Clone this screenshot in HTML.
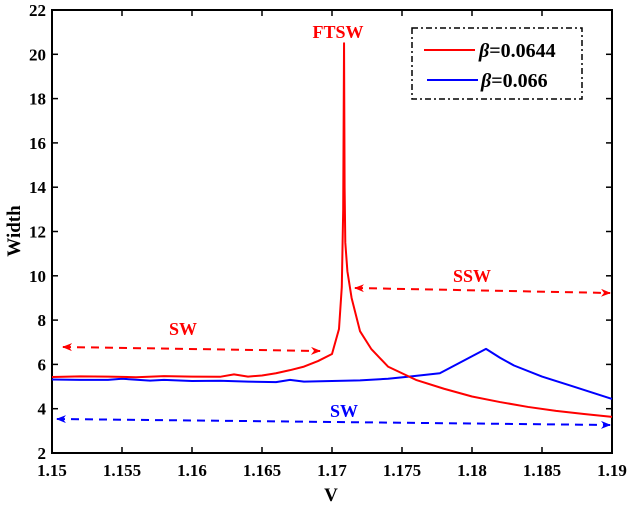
<!DOCTYPE html>
<html><head><meta charset="utf-8"><style>
body{margin:0;background:#fff}
svg{display:block;font-family:"Liberation Serif",serif;font-weight:bold}
</style></head><body>
<svg id="chart" width="629" height="508" viewBox="0 0 629 508">
<defs>
<marker id="ar" markerWidth="10" markerHeight="8" refX="9" refY="4" orient="auto-start-reverse" markerUnits="userSpaceOnUse"><path d="M0,0 L10,4 L0,8 L3,4 Z" fill="#f00"/></marker>
<marker id="ab" markerWidth="10" markerHeight="8" refX="9" refY="4" orient="auto-start-reverse" markerUnits="userSpaceOnUse"><path d="M0,0 L10,4 L0,8 L3,4 Z" fill="#00f"/></marker>
</defs>
<g id="grid"></g>
<g id="series"></g>
<g id="annot">
<line x1="63" y1="347" x2="320" y2="351" stroke="#f00" stroke-width="2" stroke-dasharray="8,6" marker-start="url(#ar)" marker-end="url(#ar)"/>
<line x1="355" y1="288" x2="610" y2="293" stroke="#f00" stroke-width="2" stroke-dasharray="8,6" marker-start="url(#ar)" marker-end="url(#ar)"/>
<line x1="57" y1="419" x2="610" y2="425" stroke="#00f" stroke-width="2" stroke-dasharray="8,6" marker-start="url(#ab)" marker-end="url(#ab)"/>
<text x="183" y="335" fill="#f00" font-size="18" text-anchor="middle">SW</text>
<text x="472" y="282" fill="#f00" font-size="18" text-anchor="middle">SSW</text>
<text x="344" y="417" fill="#00f" font-size="18" text-anchor="middle">SW</text>
<text x="338" y="38" fill="#f00" font-size="18" text-anchor="middle">FTSW</text>
<g>
<rect x="412" y="28" width="170" height="71" fill="#fff" stroke="#000" stroke-width="1.5" stroke-dasharray="6,3,2,3"/>
<line x1="424" y1="50" x2="475" y2="50" stroke="#f00" stroke-width="2"/>
<text x="479" y="57" font-size="20"><tspan font-style="italic">β</tspan>=0.0644</text>
<line x1="427" y1="80" x2="478" y2="80" stroke="#00f" stroke-width="2"/>
<text x="481" y="87" font-size="20"><tspan font-style="italic">β</tspan>=0.066</text>
</g>
<text x="331" y="501" font-size="19" text-anchor="middle">V</text>
<text x="20" y="231" font-size="19" text-anchor="middle" transform="rotate(-90 20 231)">Width</text>
</g>
</svg>
<script>
const xTicks=[1.15,1.155,1.16,1.165,1.17,1.175,1.18,1.185,1.19];
const xTickLabels=["1.15","1.155","1.16","1.165","1.17","1.175","1.18","1.185","1.19"];
const yTicks=[2,4,6,8,10,12,14,16,18,20,22];
const redX=[1.15,1.152,1.154,1.156,1.158,1.16,1.162,1.163,1.164,1.165,1.166,1.167,1.168,1.169,1.17,1.1705,1.1707,1.1708,1.17086,1.1709,1.17095,1.1711,1.1714,1.172,1.1728,1.174,1.176,1.178,1.18,1.182,1.184,1.186,1.188,1.19];
const redY=[5.43,5.46,5.45,5.42,5.47,5.45,5.44,5.55,5.45,5.5,5.6,5.74,5.9,6.15,6.47,7.6,9.5,13,20.5,14,11.5,10.2,9.0,7.5,6.7,5.9,5.3,4.9,4.55,4.3,4.08,3.9,3.76,3.63];
const blueX=[1.15,1.152,1.154,1.155,1.157,1.158,1.16,1.162,1.164,1.166,1.167,1.168,1.17,1.172,1.174,1.1755,1.1777,1.181,1.182,1.183,1.185,1.187,1.19];
const blueY=[5.32,5.3,5.3,5.35,5.27,5.3,5.25,5.26,5.22,5.2,5.3,5.22,5.25,5.28,5.35,5.45,5.6,6.7,6.3,5.95,5.45,5.05,4.44];
const L=52,R=612,T=10,B=453;
const sx=v=>L+(v-1.15)/0.04*(R-L);
const sy=v=>B-(v-2)/20*(B-T);
const NS="http://www.w3.org/2000/svg";
function mk(tag,attrs,parent,txt){const e=document.createElementNS(NS,tag);for(const k in attrs)e.setAttribute(k,attrs[k]);if(txt!==undefined)e.textContent=txt;parent.appendChild(e);return e;}
const g=document.getElementById('grid'),s=document.getElementById('series');
xTicks.forEach((v,i)=>{
 const x=sx(v);
 let t=mk('line',{x1:x,x2:x,y1:B,y2:B-6,stroke:'#000','stroke-width':1.5},g);
 
 
 t=mk('line',{x1:x,x2:x,y1:T,y2:T+6,stroke:'#000','stroke-width':1.5},g);
 
 
 const lb=mk('text',{x:x,y:B+23,'text-anchor':'middle','font-size':17},g,xTickLabels[i]);
 
 
});
yTicks.forEach(v=>{
 const y=sy(v);
 let t=mk('line',{x1:L,x2:L+6,y1:y,y2:y,stroke:'#000','stroke-width':1.5},g);
 
 
 t=mk('line',{x1:R,x2:R-6,y1:y,y2:y,stroke:'#000','stroke-width':1.5},g);
 
 
 const lb=mk('text',{x:L-6,y:y+6,'text-anchor':'end','font-size':17},g,String(v));
 
 
});
const fr=mk('rect',{x:L,y:T,width:R-L,height:B-T,fill:'none',stroke:'#000','stroke-width':2},g);


function line(xs,ys,col,name){
 const p=mk('polyline',{points:xs.map((x,i)=>sx(x)+','+sy(ys[i])).join(' '),fill:'none',stroke:col,'stroke-width':2,'stroke-linejoin':'round'},s);
 
 
}
line(blueX,blueY,'#0000ff','series-beta-0066');
line(redX,redY,'#ff0000','series-beta-00644');
</script>
</body></html>
